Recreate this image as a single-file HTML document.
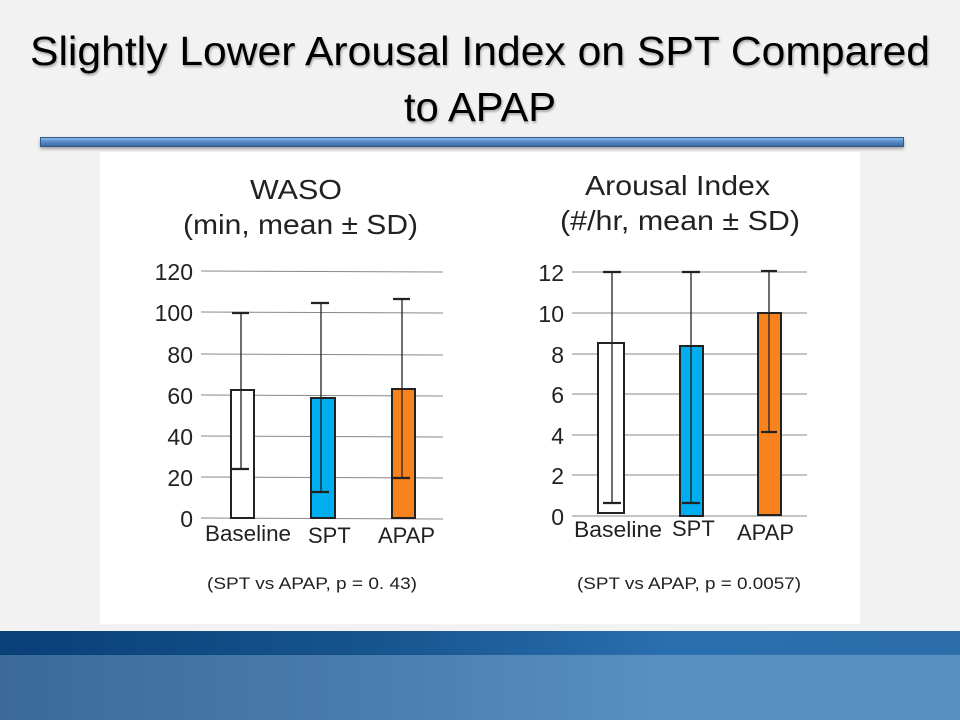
<!DOCTYPE html>
<html><head><meta charset="utf-8"><style>
body{margin:0;width:960px;height:720px;overflow:hidden;background:#f2f2f2;font-family:"Liberation Sans",sans-serif;position:relative}
</style></head><body>
<div style="position:absolute;left:40px;top:137px;width:864px;height:10px;background:linear-gradient(#8fb8e6,#5a8fcf 40%,#3e6aa0);border:1px solid #2f5a8a;box-sizing:border-box;box-shadow:0 2px 3px rgba(0,0,0,.35)"></div>
<div style="position:absolute;left:0;top:631px;width:960px;height:24px;background:linear-gradient(90deg,#0a3f78,#17558f 40%,#2a6fb0 70%,#2c6eaa)"></div>
<div style="position:absolute;left:0;top:655px;width:960px;height:65px;background:linear-gradient(90deg,#3b6a98,#4a7eaf 40%,#5a90c2 70%,#5a8fc2)"></div>
<svg style="position:absolute;left:0;top:0" width="960" height="720" font-family="Liberation Sans, sans-serif">
<g fill="#000" font-size="41" style="text-shadow:1px 2px 2px rgba(0,0,0,.3)">
<text x="30" y="65" textLength="900" lengthAdjust="spacingAndGlyphs">Slightly Lower Arousal Index on SPT Compared</text>
<text x="404" y="121" textLength="152" lengthAdjust="spacingAndGlyphs">to APAP</text>
</g>
<rect x="100" y="152" width="760" height="472" fill="#fff"/>
<g fill="#222" font-size="28">
<text x="250" y="199" textLength="92" lengthAdjust="spacingAndGlyphs">WASO</text><text x="183" y="234" textLength="235" lengthAdjust="spacingAndGlyphs">(min, mean ± SD)</text>
<text x="585" y="195" textLength="185" lengthAdjust="spacingAndGlyphs">Arousal Index</text><text x="560" y="230" textLength="240" lengthAdjust="spacingAndGlyphs">(#/hr, mean ± SD)</text>
</g>
<g stroke="#888" stroke-width="1">
<line x1="201" y1="271" x2="443" y2="272"/><line x1="201" y1="312" x2="443" y2="313"/><line x1="201" y1="354" x2="443" y2="355"/><line x1="201" y1="395" x2="443" y2="396"/><line x1="201" y1="436" x2="443" y2="437"/><line x1="201" y1="477" x2="443" y2="478"/><line x1="201" y1="518" x2="443" y2="519"/>
<line x1="572" y1="272" x2="807" y2="272"/><line x1="572" y1="313" x2="807" y2="313"/><line x1="572" y1="354" x2="807" y2="354"/><line x1="572" y1="394" x2="807" y2="394"/><line x1="572" y1="435" x2="807" y2="435"/><line x1="572" y1="475" x2="807" y2="475"/><line x1="572" y1="516" x2="807" y2="516"/>
</g>
<g fill="#222" font-size="23" text-anchor="end">
<text x="193" y="280">120</text><text x="193" y="321">100</text><text x="193" y="363">80</text><text x="193" y="404">60</text><text x="193" y="445">40</text><text x="193" y="486">20</text><text x="193" y="527">0</text>
<text x="564" y="281">12</text><text x="564" y="322">10</text><text x="564" y="363">8</text><text x="564" y="403">6</text><text x="564" y="444">4</text><text x="564" y="484">2</text><text x="564" y="525">0</text>
</g>
<g stroke="#222" stroke-width="2">
<rect x="231" y="390" width="23" height="128" fill="#fff"/>
<rect x="311" y="398" width="24" height="120" fill="#00aeef"/>
<rect x="392" y="389" width="23" height="129" fill="#f7821e"/>
<rect x="598" y="343" width="26" height="170" fill="#fff"/>
<rect x="680" y="346" width="23" height="170" fill="#00aeef"/>
<rect x="758" y="313" width="23" height="202" fill="#f7821e"/>
</g>
<g stroke="#222" stroke-width="1.3">
<line x1="241" y1="313" x2="241" y2="469"/><line x1="321" y1="303" x2="321" y2="492"/><line x1="402" y1="299" x2="402" y2="478"/>
<line x1="612" y1="272" x2="612" y2="503"/><line x1="691" y1="272" x2="691" y2="503"/><line x1="769" y1="271" x2="769" y2="432"/>
</g>
<g stroke="#222" stroke-width="2.2">
<line x1="232" y1="313" x2="249" y2="313"/><line x1="232" y1="469" x2="249" y2="469"/>
<line x1="311" y1="303" x2="329" y2="303"/><line x1="312" y1="492" x2="329" y2="492"/>
<line x1="393" y1="299" x2="410" y2="299"/><line x1="393" y1="478" x2="410" y2="478"/>
<line x1="603" y1="272" x2="621" y2="272"/><line x1="603" y1="503" x2="621" y2="503"/>
<line x1="682" y1="272" x2="700" y2="272"/><line x1="682" y1="503" x2="700" y2="503"/>
<line x1="761" y1="271" x2="777" y2="271"/><line x1="761" y1="432" x2="777" y2="432"/>
</g>
<g fill="#222" font-size="22">
<text x="205" y="541" textLength="86" lengthAdjust="spacingAndGlyphs">Baseline</text><text x="308" y="543">SPT</text><text x="378" y="543">APAP</text>
<text x="574" y="537" textLength="88" lengthAdjust="spacingAndGlyphs">Baseline</text><text x="672" y="536">SPT</text><text x="737" y="540">APAP</text>
</g>
<g fill="#222" font-size="17">
<text x="207" y="589" textLength="210" lengthAdjust="spacingAndGlyphs">(SPT vs APAP, p = 0. 43)</text><text x="577" y="589" textLength="224" lengthAdjust="spacingAndGlyphs">(SPT vs APAP, p = 0.0057)</text>
</g>
</svg>
</body></html>
